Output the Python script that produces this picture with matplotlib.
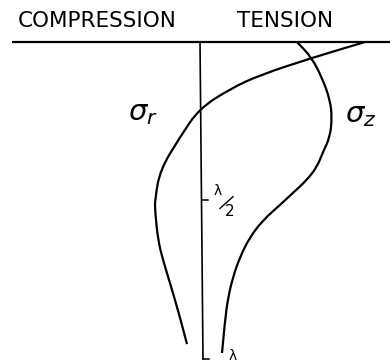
import matplotlib
matplotlib.use("Agg")
import matplotlib.pyplot as plt
from matplotlib.path import Path
from matplotlib.patches import PathPatch

# Depth below the surface, in units of the wavelength lambda
depth_r = [0.000, 0.050, 0.104, 0.148, 0.211, 0.300, 0.404, 0.498, 0.530, 0.625, 0.688, 0.760, 0.868, 0.953]
# Radial stress (compression < 0 < tension), arbitrary units
sigma_r = [1.64, 1.11, 0.59, 0.29, -0.02, -0.21, -0.41, -0.46, -0.46, -0.43, -0.38, -0.31, -0.21, -0.14]

depth_z = [0.000, 0.050, 0.120, 0.183, 0.237, 0.300, 0.347, 0.394, 0.435, 0.476, 0.514, 0.562,
           0.615, 0.678, 0.741, 0.808, 0.877, 0.981]
# Vertical stress, arbitrary units
sigma_z = [0.96, 1.11, 1.22, 1.29, 1.31, 1.29, 1.22, 1.16, 1.06, 0.92, 0.79, 0.62,
           0.49, 0.39, 0.32, 0.27, 0.24, 0.21]

depth_ticks = [0.5, 1.0]
side_labels = ["COMPRESSION", "TENSION"]

ink = "black"


def smooth_curve(ax, xs, ys, **kw):
    """Quadratic B-spline through the given points (ends pinned)."""
    pts = list(zip(xs, ys))
    verts = [pts[0]]
    codes = [Path.MOVETO]
    if len(pts) > 2:
        first_mid = ((pts[0][0] + pts[1][0]) / 2, (pts[0][1] + pts[1][1]) / 2)
        verts.append(first_mid)
        codes.append(Path.LINETO)
        for i in range(1, len(pts) - 1):
            a, b = pts[i], pts[i + 1]
            end = b if i == len(pts) - 2 else ((a[0] + b[0]) / 2, (a[1] + b[1]) / 2)
            verts += [a, end]
            codes += [Path.CURVE3, Path.CURVE3]
    else:
        verts.append(pts[1])
        codes.append(Path.LINETO)
    ax.add_patch(PathPatch(Path(verts, codes), fill=False, **kw))


fig = plt.figure(figsize=(3.9, 3.64), dpi=100)
ax = fig.add_axes([0, 0, 1, 1])
ax.set_xlim(-2.01, 1.89)
ax.set_ylim(1.0158, -0.1325)
ax.axis("off")

# surface line and depth axis
ax.plot([-1.89, 1.89], [0, 0], color=ink, lw=1.6, solid_capstyle="butt")
ax.plot([-0.01, 0.02], [0, 1.0], color=ink, lw=1.2)
for t in depth_ticks:
    x0 = -0.01 + 0.03 * t
    ax.plot([x0, x0 + 0.06], [t, t], color=ink, lw=1.1)

# stress profiles
smooth_curve(ax, sigma_r, depth_r, edgecolor=ink, lw=1.6)
smooth_curve(ax, sigma_z, depth_z, edgecolor=ink, lw=1.6)

# headings
ax.text(-1.83, -0.047, side_labels[0], fontsize=15.5, color=ink, ha="left", va="baseline",
        family="DejaVu Sans")
ax.text(0.36, -0.047, side_labels[1], fontsize=15.5, color=ink, ha="left", va="baseline",
        family="DejaVu Sans")

# curve labels
ax.text(-0.58, 0.224, r"$\sigma_r$", fontsize=21, color=ink, ha="center", va="center")
ax.text(1.60, 0.230, r"$\sigma_z$", fontsize=21, color=ink, ha="center", va="center")

# depth tick labels
ax.text(0.17, 0.470, "λ", fontsize=10, color=ink, ha="center", va="center")
ax.plot([0.19, 0.32], [0.525, 0.488], color=ink, lw=1.0)
ax.text(0.29, 0.536, "2", fontsize=11, color=ink, ha="center", va="center")
ax.text(0.32, 0.99, "λ", fontsize=10, color=ink, ha="center", va="center")

fig.savefig("out.png", dpi=100)
